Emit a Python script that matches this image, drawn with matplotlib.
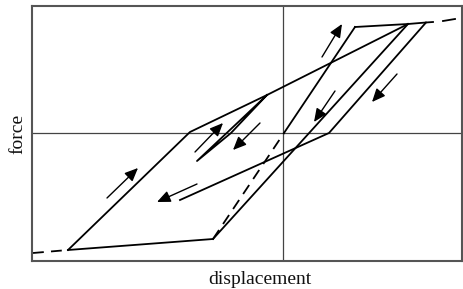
import matplotlib
matplotlib.use("Agg")
import matplotlib.pyplot as plt

# Schematic hysteresis data (displacement, force) in arbitrary units
lead_in_d = [-250, -215]
lead_in_f = [-120, -117]

bottom_d = [-215, -70]
bottom_f = [-117, -106]

loading_d = [-215, -93, -16, 125]
loading_f = [-117, 1, 38, 109]

unload1_d = [125, -70]
unload1_f = [109, -106]

reload_dash_d = [-70, 1]
reload_dash_f = [-106, 0]

reload_solid_d = [1, 72]
reload_solid_f = [0, 106]

top_d = [72, 125, 143, 150]
top_f = [106, 109, 110.5, 111]

top_dash_d = [160, 172]
top_dash_f = [112, 114]

unload2_d = [143, 46, -103]
unload2_f = [110.5, 0, -67]

inner_d = [-16, -52, -86, -16]
inner_f = [38, 0, -28, 38]

# arrows: (tail_d, tail_f, tip_d, tip_f)
arrows = [
    (-176, -65, -145, -35),
    (-86, -51, -126, -69),
    (-88, -19, -60, 10),
    (-23, 10, -50, -17),
    (39, 76, 59, 109),
    (52, 42, 31, 11),
    (114, 59, 89, 31),
]

xlim = (-251, 179)
ylim = (-128, 127)

fig = plt.figure(figsize=(4.64, 2.89), dpi=100)
ax = fig.add_axes([32 / 464, 28 / 289, 430 / 464, 255 / 289])
ax.set_xlim(*xlim)
ax.set_ylim(*ylim)
ax.set_xticks([])
ax.set_yticks([])
for s in ax.spines.values():
    s.set_color("#555555")
    s.set_linewidth(1.5)

ax.axhline(0, color="#444444", lw=0.9)
ax.axvline(0, color="#444444", lw=0.9)

lw = 1.3
dash = (0, (6, 4))
ax.plot(lead_in_d, lead_in_f, color="black", lw=lw, linestyle=dash)
ax.plot(bottom_d, bottom_f, color="black", lw=lw)
ax.plot(loading_d, loading_f, color="black", lw=lw)
ax.plot(unload1_d, unload1_f, color="black", lw=lw)
ax.plot(reload_dash_d, reload_dash_f, color="black", lw=lw, linestyle=dash)
ax.plot(reload_solid_d, reload_solid_f, color="black", lw=lw)
ax.plot(top_d, top_f, color="black", lw=lw)
ax.plot(top_dash_d, top_dash_f, color="black", lw=lw)
ax.plot(unload2_d, unload2_f, color="black", lw=lw)
ax.plot(inner_d, inner_f, color="black", lw=lw)

for td, tf, hd, hf in arrows:
    ax.annotate("", xy=(hd, hf), xytext=(td, tf),
                arrowprops=dict(arrowstyle="-|>,head_length=0.8,head_width=0.35",
                                color="black", lw=1.0, shrinkA=0, shrinkB=0,
                                mutation_scale=10))

fig.text(260 / 464, 1 - 279 / 289, "displacement", ha="center", va="center",
         fontsize=14, family="Liberation Serif", color="#111111")
fig.text(18 / 464, 1 - 134 / 289, "force", ha="center", va="center",
         rotation=90, fontsize=14, family="Liberation Serif", color="#111111")

fig.savefig("out.png", dpi=100)
